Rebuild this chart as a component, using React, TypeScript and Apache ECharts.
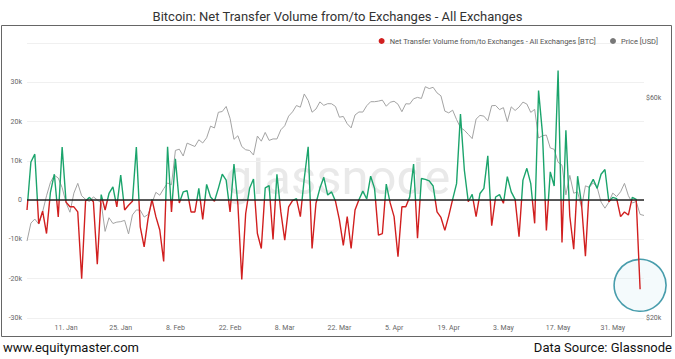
import React, { useEffect, useRef } from 'react';
import * as echarts from 'echarts';

const MONTHS = ['Jan', 'Feb', 'Mar', 'Apr', 'May', 'Jun'];
const START_UTC = Date.UTC(2021, 0, 1);
const DAY_COUNT = 159; // 1 Jan 2021 .. 8 Jun 2021
const dates: string[] = [];
for (let i = 0; i < DAY_COUNT; i++) {
  const d = new Date(START_UTC + i * 86400000);
  dates.push(`${d.getUTCDate()}. ${MONTHS[d.getUTCMonth()]}`);
}

// Net transfer volume from/to exchanges [BTC], daily, 1 Jan .. 7 Jun 2021
const netFlow = [
  -2500, 9700, 11700, -6000, -2800, -8500, 2000, 6600, -4300, 13500,
  -500, -1700, -1700, -3000, -20000, -200, 700, -400, -16300, 1400,
  -2500, 1700, 3400, -1700, 6400, -2500, -1300, -300, 13500, -6800,
  -11900, -4700, 200, -4200, -7600, -15600, 13600, -3000, 10500, -700,
  2100, 2400, -3000, -3000, 3000, -4900, 4000, 800, -300, 3000,
  6600, 5100, -3000, 9200, -1000, -20200, -3400, 3000, 5400, -8500,
  -12300, 3100, 3700, -10000, 6600, -3000, -10200, -1700, -100, 400,
  -4200, 5500, 13600, -12300, -800, 3000, 5800, 1300, 2100, -300,
  -5000, -11500, -4200, -12300, -2500, 100, 2300, 300, 6100, 3000,
  -8900, -8500, 4100, -700, -4200, -14400, -1700, -1700, 800, 9200,
  -9700, 5500, 5300, 4900, 3600, -3000, -4400, -7700, -4000, 200,
  4200, 21900, 7600, -400, 1500, -4200, 1700, 3000, 11300, -6500,
  800, 1400, -800, 6000, 2100, 200, -9300, 5100, 8100, 4200,
  -5900, 27900, 17000, -7700, 7200, 3600, 33000, -10800, 17800, -4100,
  -12500, 6100, -1000, -14300, 3400, 5300, 3000, 6600, 7800, -400,
  700, 400, -4200, -3000, -3800, 700, 200, -22700,
];

// BTC price [USD], daily, 1 Jan .. 8 Jun 2021
const priceUsd = [
  29374, 32127, 32782, 31971, 33992, 36824, 39371, 40797, 40254, 38356,
  35566, 33922, 37316, 39187, 36825, 36178, 35791, 36630, 36069, 35547,
  30825, 33005, 32067, 32289, 32366, 32569, 30432, 33466, 34316, 34269,
  33114, 33537, 35510, 37473, 36926, 38144, 39266, 38903, 46196, 46481,
  44919, 47910, 47504, 47105, 48717, 47945, 49199, 52149, 51679, 55888,
  56099, 57539, 54207, 48824, 49705, 47093, 46339, 46188, 45137, 49631,
  48378, 50538, 48561, 48927, 48912, 51206, 52246, 54824, 56008, 57805,
  57332, 61243, 59302, 55907, 56804, 58870, 57858, 58346, 58313, 57523,
  54529, 54738, 52774, 51704, 55137, 55974, 55947, 57750, 58918, 58918,
  59095, 59384, 57604, 58758, 59057, 58192, 56048, 58323, 58245, 59793,
  60204, 59893, 63504, 62914, 63314, 61572, 60683, 56216, 55724, 56473,
  53906, 51763, 51093, 50050, 49004, 54021, 55033, 54824, 53555, 57750,
  57828, 56631, 57200, 53333, 57424, 56397, 57357, 58803, 58232, 55859,
  56704, 49150, 49716, 49880, 46760, 46456, 43538, 42909, 37002, 40782,
  37305, 37536, 34770, 38705, 38402, 39294, 38436, 35697, 34616, 35678,
  37333, 36693, 37569, 39188, 36851, 35520, 35796, 33552, 33380,
];

const flowAxisTicks = { min: -30000, max: 40000, interval: 10000 };
// log price axis: labelled ticks at $20k (axis min) and $60k
const priceAxisLabelTop = 60000;
const priceAxisRange = { min: 20000, max: 79000 };
const highlightIndex = netFlow.length - 1;

const GREEN = '#1ba46c';
const RED = '#d11f1f';
const FONT = 'Roboto, "Noto Sans", Arial, sans-serif';

export default function App() {
  const ref = useRef<HTMLDivElement>(null);
  useEffect(() => {
    if (!ref.current) return;
    const chart = echarts.init(ref.current, null, { renderer: 'svg' });
    // green above zero, red below: split the line's gradient where 0 lies in its value range
    const fMax = Math.max(...netFlow);
    const fMin = Math.min(...netFlow);
    const zeroAt = fMax / (fMax - fMin);
    const flowColor = new echarts.graphic.LinearGradient(0, 0, 0, 1, [
      { offset: 0, color: GREEN },
      { offset: zeroAt, color: GREEN },
      { offset: zeroAt, color: RED },
      { offset: 1, color: RED },
    ]);
    chart.setOption({
      animation: false,
      backgroundColor: '#ffffff',
      textStyle: { fontFamily: FONT },
      title: {
        text: 'Bitcoin: Net Transfer Volume from/to Exchanges - All Exchanges',
        left: 'center',
        top: 5,
        textStyle: { fontSize: 13, fontWeight: 'normal', color: '#333', fontFamily: FONT },
      },
      legend: {
        right: 12,
        top: 32,
        itemWidth: 6,
        itemHeight: 6,
        itemGap: 14,
        icon: 'circle',
        textStyle: { fontSize: 7.5, color: '#555', fontFamily: FONT },
        data: [
          { name: 'Net Transfer Volume from/to Exchanges - All Exchanges [BTC]', itemStyle: { color: RED } },
          { name: 'Price [USD]', itemStyle: { color: '#777' } },
        ],
      },
      graphic: [
        {
          type: 'rect',
          shape: { x: 1.5, y: 25.5, width: 670, height: 311 },
          style: { fill: 'none', stroke: '#666', lineWidth: 1 },
          silent: true,
        },
        {
          type: 'text',
          left: 'center',
          top: 153,
          style: { text: 'glassnode', fontSize: 49, fontFamily: FONT, fill: '#e9e9e9' },
          silent: true,
        },
        {
          type: 'text',
          left: 3,
          top: 341,
          style: { text: 'www.equitymaster.com', fontSize: 13, fontFamily: FONT, fill: '#111' },
          silent: true,
        },
        {
          type: 'text',
          right: 3,
          top: 341,
          style: { text: 'Data Source: Glassnode', fontSize: 13, fontFamily: FONT, fill: '#111' },
          silent: true,
        },
      ],
      grid: { left: 27, right: 31, top: 43, bottom: 41 },
      xAxis: {
        type: 'category',
        data: dates,
        boundaryGap: false,
        axisLine: { show: false },
        axisTick: { show: false },
        splitLine: { show: false },
        axisLabel: {
          interval: (index: number) => index >= 10 && (index - 10) % 14 === 0,
          fontSize: 7,
          color: '#666',
          margin: 6,
          fontFamily: FONT,
        },
      },
      yAxis: [
        {
          type: 'value',
          min: flowAxisTicks.min,
          max: flowAxisTicks.max,
          interval: flowAxisTicks.interval,
          axisLine: { show: false },
          axisTick: { show: false },
          splitLine: { lineStyle: { color: '#f0f0f0', width: 1 } },
          axisLabel: {
            fontSize: 7,
            color: '#666',
            margin: 5,
            fontFamily: FONT,
            formatter: (v: number) => (v === 0 ? '0' : v >= 40000 ? '' : `${v / 1000}k`),
          },
        },
        {
          type: 'log',
          logBase: Math.sqrt(priceAxisLabelTop),
          position: 'right',
          min: priceAxisRange.min,
          max: priceAxisRange.max,
          axisLine: { show: false },
          axisTick: { show: false },
          splitLine: { show: false },
          axisLabel: {
            fontSize: 7,
            color: '#666',
            margin: 2,
            fontFamily: FONT,
            formatter: (v: number) => (v > 70000 ? '' : `$${Math.round(v / 1000)}k`),
          },
        },
      ],
      series: [
        {
          name: 'Net Transfer Volume from/to Exchanges - All Exchanges [BTC]',
          type: 'line',
          data: netFlow,
          yAxisIndex: 0,
          showSymbol: false,
          symbol: 'none',
          itemStyle: { color: RED },
          lineStyle: { width: 1.4, color: flowColor },
          z: 3,
          markLine: {
            silent: true,
            symbol: 'none',
            label: { show: false },
            lineStyle: { color: '#222', width: 1.5, type: 'solid' },
            data: [{ yAxis: 0 }],
          },
        },
        {
          name: 'Price [USD]',
          type: 'line',
          data: priceUsd,
          yAxisIndex: 1,
          showSymbol: false,
          symbol: 'none',
          lineStyle: { width: 1, color: '#a3a3a3' },
          itemStyle: { color: '#777' },
          z: 2,
        },
        {
          name: 'highlight',
          type: 'scatter',
          yAxisIndex: 0,
          data: [[highlightIndex, netFlow[highlightIndex]]],
          symbol: 'circle',
          symbolSize: 52,
          symbolOffset: [0, -4],
          itemStyle: { color: 'rgba(215,236,243,0.35)', borderColor: '#1b8597', borderWidth: 1.6 },
          silent: true,
          z: 1,
        },
      ],
    });
    return () => chart.dispose();
  }, []);
  return (
    <div
      ref={ref}
      style={{ position: 'fixed', left: 0, top: 0, width: 675, height: 359, background: '#fff' }}
    />
  );
}
